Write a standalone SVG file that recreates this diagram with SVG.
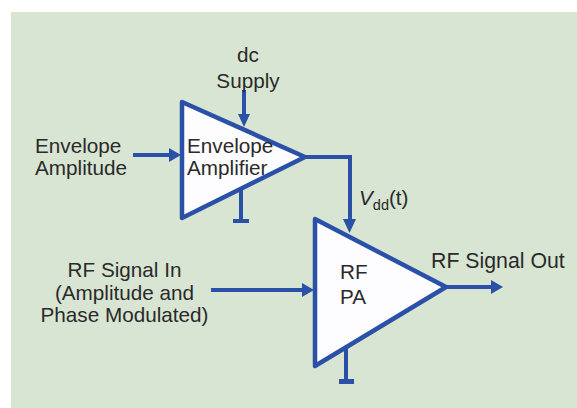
<svg xmlns="http://www.w3.org/2000/svg" width="577" height="408" viewBox="0 0 577 408">
<defs>
<style>
.t{font-family:"Liberation Sans",Arial,sans-serif;font-size:20.700px;fill:#2a2a2a}
.m{text-anchor:middle}
.w{fill:none;stroke:#2a50a8;stroke-width:4}
.tri{fill:#fdfcfe;stroke:#2a50a8;stroke-width:4.500;stroke-linejoin:round}
.h{fill:#2a50a8}
</style>
</defs>
<rect x="0" y="0" width="577" height="408" fill="#ffffff"/>
<rect x="11" y="12" width="566" height="396" fill="#d8e5d2"/>
<g id="connectors">
<path class="w" d="M133 155H172"/><path class="h" d="M181 155L169 148V162Z"/>
<path class="w" d="M244 90V118" stroke-width="4.500"/><path class="h" d="M244 127L238 114H250Z"/>
<path class="w" d="M305 157H350V220"/><path class="h" d="M349.500 233L343 219H356Z"/>
<path class="w" d="M211 290H304"/><path class="h" d="M314 290L302 283V297Z"/>
<path class="w" d="M446 287H494"/><path class="h" d="M503 287L491 280V294Z"/>
<path class="w" d="M241 190V221"/><path class="w" d="M233 221H249"/>
<path class="w" d="M346 348V381"/><path class="w" d="M339 381.500H354" style="stroke-width:5"/>
</g>
<g id="envelope-amplifier">
<path class="tri" d="M182 102L305 157L182 218Z"/>
<text class="t" x="187" y="153">Envelope</text>
<text class="t" x="187" y="175">Amplifier</text>
</g>
<g id="rf-pa">
<path class="tri" d="M315 219L446 287L315 366Z"/>
<text class="t" x="340" y="279">RF</text>
<text class="t" x="340" y="304">PA</text>
</g>
<g id="labels">
<text class="t m" x="248" y="62">dc</text>
<text class="t m" x="248" y="88">Supply</text>
<text class="t" x="35" y="152.500">Envelope</text>
<text class="t" x="35" y="175">Amplitude</text>
<text class="t" x="359" y="205"><tspan font-style="italic">V</tspan><tspan font-size="14.500" dy="5">dd</tspan><tspan dy="-5">(t)</tspan></text>
<text class="t" x="431" y="268" style="font-size:21.300px">RF Signal Out</text>
<text class="t m" x="124.500" y="277">RF Signal In</text>
<text class="t m" x="124.500" y="300">(Amplitude and</text>
<text class="t m" x="124.500" y="322">Phase Modulated)</text>
</g>
</svg>
